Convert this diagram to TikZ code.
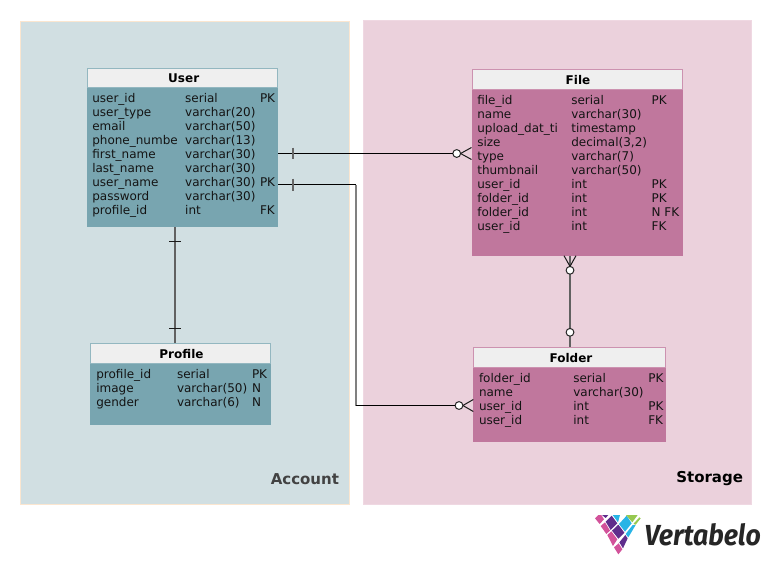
\documentclass[tikz,border=0pt]{standalone}
\usepackage{fontspec}
\setmainfont{DejaVu Sans}
\newfontfamily\logofont{Fira Sans}
\definecolor{acctbg}{HTML}{D1DFE2}
\definecolor{acctedge}{HTML}{FBE6D0}
\definecolor{storebg}{HTML}{EBD1DC}
\definecolor{storeedge}{HTML}{EFD8E2}
\definecolor{teal}{HTML}{78A5B0}
\definecolor{tealedge}{HTML}{93B7C0}
\definecolor{rose}{HTML}{C0779D}
\definecolor{roseedge}{HTML}{CC92B0}
\definecolor{headfill}{HTML}{EFEFEF}
\definecolor{lpink}{HTML}{D2529A}
\definecolor{lpurple}{HTML}{5F2D8C}
\definecolor{lcyan}{HTML}{28B4E6}
\definecolor{lgreen}{HTML}{96C850}
\tikzset{
  every node/.style={outer sep=0pt},
  panel/.style={rectangle,inner sep=0pt,anchor=north west,line width=.8pt},
  tbody/.style={rectangle,inner sep=0pt,anchor=north west},
  thead/.style={rectangle,inner sep=0pt,anchor=north west,fill=headfill,line width=.8pt},
  ttitle/.style={inner sep=0pt,anchor=base,font=\fontsize{12}{12}\selectfont\bfseries,text=black},
  rowtext/.style={inner sep=0pt,anchor=base west,font=\fontsize{12}{12}\selectfont,text=black!92},
  rel/.style={draw=black,line width=1pt},
  relv/.style={draw=black!62,line width=1.7pt},
  relw/.style={draw=black!50,line width=1.7pt},
  knob/.style={circle,draw=black!85,fill=white,line width=1pt,inner sep=0pt,minimum size=7.8pt},
  tick/.style={draw=black!90,line width=1pt},
  tickv/.style={draw=black!60,line width=1.6pt},
  zone/.style={inner sep=0pt,anchor=base east,font=\fontsize{15}{15}\selectfont\bfseries},
}
\newcommand{\rowsof}[6]{%
  \foreach \ca/\cb/\cc [count=\i from 0] in {#6} {
    \node[rowtext] (#1a\i) at (#2,#5+14*\i) {\ca};
    \node[rowtext] (#1b\i) at (#3,#5+14*\i) {\cb};
    \node[rowtext] (#1c\i) at (#4,#5+14*\i) {\cc};
  }%
}
\begin{document}
\begin{tikzpicture}[x=1pt,y=-1pt]
\useasboundingbox (0,0) rectangle (771,565);
% panels
\node[panel,draw=acctedge,fill=acctbg,minimum width=329pt,minimum height=483.5pt] (account) at (20.5,21) {};
\node[panel,draw=storeedge,fill=storebg,minimum width=388pt,minimum height=484pt] (storage) at (363.5,20) {};
\node[zone,text=black!74] (accountlabel) at (339,484) {Account};
\node[zone,text=black] (storagelabel) at (743,482.5) {Storage};
% table bodies
\node[tbody,fill=teal,minimum width=191.5pt,minimum height=159.5pt] (user) at (86.5,67.5) {};
\node[tbody,fill=teal,minimum width=180.5pt,minimum height=81.5pt] (profile) at (90.3,343.3) {};
\node[tbody,fill=rose,minimum width=211.2pt,minimum height=186.4pt] (file) at (471.5,69.3) {};
\node[tbody,fill=rose,minimum width=193pt,minimum height=94.4pt] (folder) at (473.3,347.3) {};
% headers
\node[thead,draw=tealedge,minimum width=190.5pt,minimum height=19.5pt] (userhead) at (87,68) {};
\node[thead,draw=tealedge,minimum width=179.5pt,minimum height=19.5pt] (profilehead) at (90.8,343.8) {};
\node[thead,draw=roseedge,minimum width=210.2pt,minimum height=19.5pt] (filehead) at (472,69.8) {};
\node[thead,draw=roseedge,minimum width=192pt,minimum height=19.5pt] (folderhead) at (473.8,347.8) {};
\node[ttitle] (usertitle) at (183.7,82) {User};
\node[ttitle] (profiletitle) at (181.5,358) {Profile};
\node[ttitle] (filetitle) at (578,84) {File};
\node[ttitle] (foldertitle) at (571,362) {Folder};
% rows
\rowsof{u}{92.3}{185.2}{260}{102.3}{user\_id/serial/PK,user\_type/varchar(20)/{},email/varchar(50)/{},phone\_numbe/varchar(13)/{},first\_name/varchar(30)/{},last\_name/varchar(30)/{},user\_name/varchar(30)/PK,password/varchar(30)/{},profile\_id/int/FK}
\rowsof{p}{96.3}{177}{252}{378.3}{profile\_id/serial/PK,image/varchar(50)/N,gender/varchar(6)/N}
\rowsof{f}{477.3}{571.3}{651.7}{104.3}{file\_id/serial/PK,name/varchar(30)/{},upload\_dat\_ti/timestamp/{},size/{decimal(3,2)}/{},type/varchar(7)/{},thumbnail/varchar(50)/{},user\_id/int/PK,folder\_id/int/PK,folder\_id/int/N FK,user\_id/int/FK}
\rowsof{d}{479}{573.3}{648.3}{382.3}{folder\_id/serial/PK,name/varchar(30)/{},user\_id/int/PK,user\_id/int/FK}
% connector anchors
\coordinate (userE1) at ([yshift=-86pt]user.north east);
\coordinate (userE2) at ([yshift=-117pt]user.north east);
\coordinate (userS) at ([xshift=88.5pt]user.south west);
\coordinate (profN) at ([xshift=84.7pt]profile.north west);
\coordinate (fileW) at ([yshift=-84.2pt]file.north west);
\coordinate (fileS) at ([xshift=98.5pt]file.south west);
\coordinate (foldN) at ([xshift=96.7pt]folder.north west);
\coordinate (foldW) at ([yshift=-58.2pt]folder.north west);
\coordinate (elbowA) at (356,184.5);
\coordinate (elbowB) at (356,405.5);
% connectors
\draw[relv] (userS) -- (profN);
\draw[relv] (fileS) -- (foldN);
\draw[relw] (elbowA) -- (elbowB);
% knobs
\node[knob] (k1) at (456.7,153.5) {};
\node[knob] (k2) at (459,405.5) {};
\node[knob] (k3) at (570,270.3) {};
\node[knob] (k4) at (570,332.3) {};
\draw[rel] (userE1) -- (k1);
\draw[rel] (userE2) -- (elbowA);
\draw[rel] (elbowB) -- (k2);
% crow's feet
\draw[tick] (k1.east) -- ([yshift=6pt]fileW);
\draw[tick] (k1.east) -- ([yshift=-6pt]fileW);
\draw[tick] (k2.east) -- ([yshift=6pt]foldW);
\draw[tick] (k2.east) -- ([yshift=-6pt]foldW);
\draw[tick] (k3.north) -- ([xshift=-6pt]fileS);
\draw[tick] (k3.north) -- ([xshift=6pt]fileS);
% ticks
\draw[tickv] (293,147.7) -- (293,159.3);
\draw[tickv] (293,178.5) -- (293,190.5);
\draw[tick] (169,241.5) -- (181,241.5);
\draw[tick] (169,328.5) -- (181,328.5);
% logo
\begin{scope}[shift={(590,510)},x=.3333pt,y=-.3333pt]
\fill[lpink] (15,25) -- (25,15) -- (34,15) -- (42,28) -- (29,42) -- cycle;
\fill[lpurple] (36,15) -- (55,15) -- (47,24) -- cycle;
\fill[lpink] (32,48) -- (45,37) -- (60,62) -- (49,72) -- cycle;
\fill[lpurple] (47,35) -- (65,17) -- (82,40) -- (62,60) -- cycle;
\fill[lcyan] (68,15) -- (90,15) -- (84,37) -- cycle;
\fill[lpink] (52,75) -- (64,64) -- (82,88) -- (69,108) -- cycle;
\fill[lpurple] (66,62) -- (85,44) -- (103,68) -- (85,86) -- cycle;
\fill[lcyan] (87,42) -- (110,17) -- (125,40) -- (105,65) -- cycle;
\fill[lgreen] (108,15) -- (143,15) -- (127,37) -- cycle;
\fill[lpink] (72,112) -- (86,100) -- (97,118) -- (85,133) -- cycle;
\fill[lpurple] (88,97) -- (106,75) -- (113,85) -- (99,115) -- cycle;
\fill[lcyan] (107,72) -- (128,45) -- (137,45) -- (115,82) -- cycle;
\fill[lgreen] (130,42) -- (148,22) -- (152,25) -- (137,44) -- cycle;
\end{scope}
\node[inner sep=0pt,anchor=base west,font=\logofont\fontsize{29}{29}\selectfont\bfseries\itshape,text=black!85] (logotext) at (644.5,545) {\scalebox{.92}[1]{Vertabelo}};
\end{tikzpicture}
\end{document}
